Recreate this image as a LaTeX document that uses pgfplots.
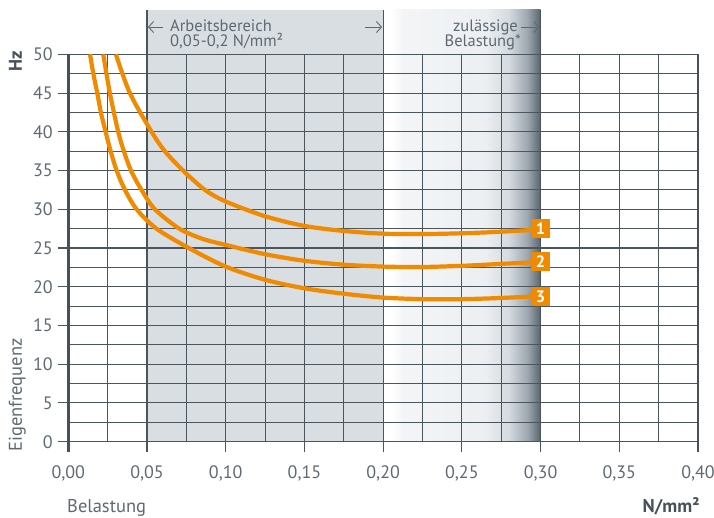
\documentclass[border=0pt]{standalone}
\usepackage{fontspec}
\setmainfont{PT Sans}
\usepackage{pgfplots}
\pgfplotsset{compat=1.18}
\usetikzlibrary{arrows.meta}
\definecolor{gridc}{HTML}{4A555E}
\definecolor{txt}{HTML}{5E6A72}
\definecolor{dark}{HTML}{46525B}
\definecolor{work}{HTML}{D8DEE2}
\definecolor{orng}{HTML}{F08A00}
\definecolor{g1}{HTML}{F3F5F7}
\definecolor{g2}{HTML}{ECEFF2}
\definecolor{g3}{HTML}{D3D9DE}
\definecolor{g4}{HTML}{9AA4AC}
\definecolor{g5}{HTML}{58646D}
\newcommand{\fs}{\fontsize{16.5}{19}\selectfont}
\newcommand{\fl}{\fontsize{18.5}{21}\selectfont}
\begin{document}
\begin{tikzpicture}
\begin{axis}[at={(0pt,0pt)}, anchor=south west, scale only axis,
  width=629.7pt, height=387.4pt,
  xmin=0, xmax=0.4, ymin=0, ymax=50,
  set layers, clip=false,
  axis line style={draw=none},
  xtick={0,0.05,0.1,0.15,0.2,0.25,0.3,0.35,0.4},
  ytick={0,5,10,15,20,25,30,35,40,45,50},
  extra x ticks={0.025,0.075,0.125,0.175,0.225,0.275,0.325,0.375},
  extra y ticks={2.5,7.5,12.5,17.5,22.5,27.5,32.5,37.5,42.5,47.5},
  extra x tick style={grid=major, major tick length=0pt, xticklabel={}},
  extra y tick style={grid=major, major tick length=0pt, yticklabel={}},
  grid=major,
  major grid style={gridc, line width=1.05pt},
  xtick pos=bottom, ytick pos=left,
  tick align=outside, major tick length=10.5pt,
  every tick/.style={gridc, line width=1.05pt},
  tick label style={txt, font=\fontsize{18}{21}\selectfont},
  /pgf/number format/assume math mode=true,
  xticklabel style={yshift=-10pt, /pgf/number format/.cd, fixed, fixed zerofill, precision=2, use comma},
  yticklabel style={xshift=-1.5pt},
]
\begin{pgfonlayer}{axis background}
\fill[work] (axis cs:0.05,0) rectangle (axis cs:0.2,55.72);
\fill[left color=white, right color=g1] (axis cs:0.205,0) rectangle (axis cs:0.2125,55.72);
\fill[left color=g1, right color=g2] (axis cs:0.212,0) rectangle (axis cs:0.2655,55.72);
\fill[left color=g2, right color=g3] (axis cs:0.265,0) rectangle (axis cs:0.2805,55.72);
\fill[left color=g3, right color=g4] (axis cs:0.28,0) rectangle (axis cs:0.2925,55.72);
\fill[left color=g4, right color=g5] (axis cs:0.292,0) rectangle (axis cs:0.3,55.72);
\end{pgfonlayer}
\draw[gridc, line width=1.05pt] (axis cs:0.05,50) -- (axis cs:0.05,55.72);
\draw[gridc, line width=1.05pt] (axis cs:0.2,50) -- (axis cs:0.2,55.72);
\draw[gridc, line width=1.05pt] (axis cs:0.3,50) -- (axis cs:0.3,55.72);
\draw[dark, line width=3pt] (axis cs:0,50) -- ([yshift=-10.5pt]axis cs:0,0);
\draw[dark, line width=2.7pt] (axis cs:0.4,50) -- ([yshift=-10.5pt]axis cs:0.4,0);

\addplot[orng, line width=4.2pt, smooth] coordinates {
(0.0302,50) (0.0391,45) (0.0529,40) (0.0613,37.5) (0.0729,35) (0.0868,32.5) (0.1,31.0)
(0.125,29.1) (0.15,27.85) (0.175,27.2) (0.2,26.85) (0.225,26.8) (0.25,26.9) (0.275,27.1) (0.3,27.4)};
\addplot[orng, line width=4.2pt, smooth] coordinates {
(0.0222,50) (0.0264,45) (0.0317,40) (0.0353,37.5) (0.0398,35) (0.0465,32.5) (0.055,30)
(0.0705,27.5) (0.085,26.2) (0.1,25.4) (0.125,24.2) (0.15,23.35) (0.175,22.85) (0.2,22.6)
(0.225,22.55) (0.25,22.7) (0.275,22.95) (0.3,23.2)};
\addplot[orng, line width=4.2pt, smooth] coordinates {
(0.0138,50) (0.0159,47.5) (0.0184,45) (0.0207,42.5) (0.0237,40) (0.0269,37.5) (0.0307,35)
(0.036,32.5) (0.0434,30) (0.056,27.5) (0.0765,25) (0.1,22.6) (0.125,20.9) (0.15,19.8)
(0.175,19.1) (0.2,18.6) (0.225,18.4) (0.25,18.4) (0.275,18.55) (0.3,18.8)};

\node[fill=orng, text=white, font=\bfseries\fs, minimum size=19pt, inner sep=0pt] at (axis cs:0.3,27.5) {1};
\node[fill=orng, text=white, font=\bfseries\fs, minimum size=19pt, inner sep=0pt] at (axis cs:0.3,23.2) {2};
\node[fill=orng, text=white, font=\bfseries\fs, minimum size=19pt, inner sep=0pt] at (axis cs:0.3,18.7) {3};

\draw[txt, line width=0.9pt, -{Straight Barb[length=5pt,width=11pt]}] (axis cs:0.0602,53.52) -- (axis cs:0.0506,53.52);
\draw[txt, line width=0.9pt, -{Straight Barb[length=5pt,width=11pt]}] (axis cs:0.1885,53.52) -- (axis cs:0.1993,53.52);
\draw[txt, line width=0.9pt, -{Straight Barb[length=5pt,width=11pt]}] (axis cs:0.2876,53.52) -- (axis cs:0.2993,53.52);
\node[txt, font=\fs, anchor=base west, inner sep=0pt] at (axis cs:0.0646,52.92) {Arbeitsbereich};
\node[txt, font=\fs, anchor=base west, inner sep=0pt] at (axis cs:0.0646,50.98) {0,05-0,2 N/mm²};
\node[txt, font=\fs, anchor=base east, inner sep=0pt] at (axis cs:0.2857,52.92) {zulässige};
\node[txt, font=\fs, anchor=base east, inner sep=0pt] at (axis cs:0.2876,50.98) {Belastung*};
\end{axis}
\node[txt, font=\fl, rotate=90, anchor=base west, inner sep=0pt] at (-46.3pt,-10.3pt) {Eigenfrequenz};
\node[dark, font=\bfseries\fl, rotate=90, anchor=base, inner sep=0pt] at (-46.3pt,380.7pt) {Hz};
\node[txt, font=\fl, anchor=base west, inner sep=0pt] at (-1.3pt,-70.3pt) {Belastung};
\node[dark, font=\bfseries\fl, anchor=base east, inner sep=0pt] at (631.7pt,-70.3pt) {N/mm²};
\pgfresetboundingbox
\path[use as bounding box] (-68.3pt,-75.3pt) rectangle (645.7pt,441.7pt);
\end{tikzpicture}
\end{document}
